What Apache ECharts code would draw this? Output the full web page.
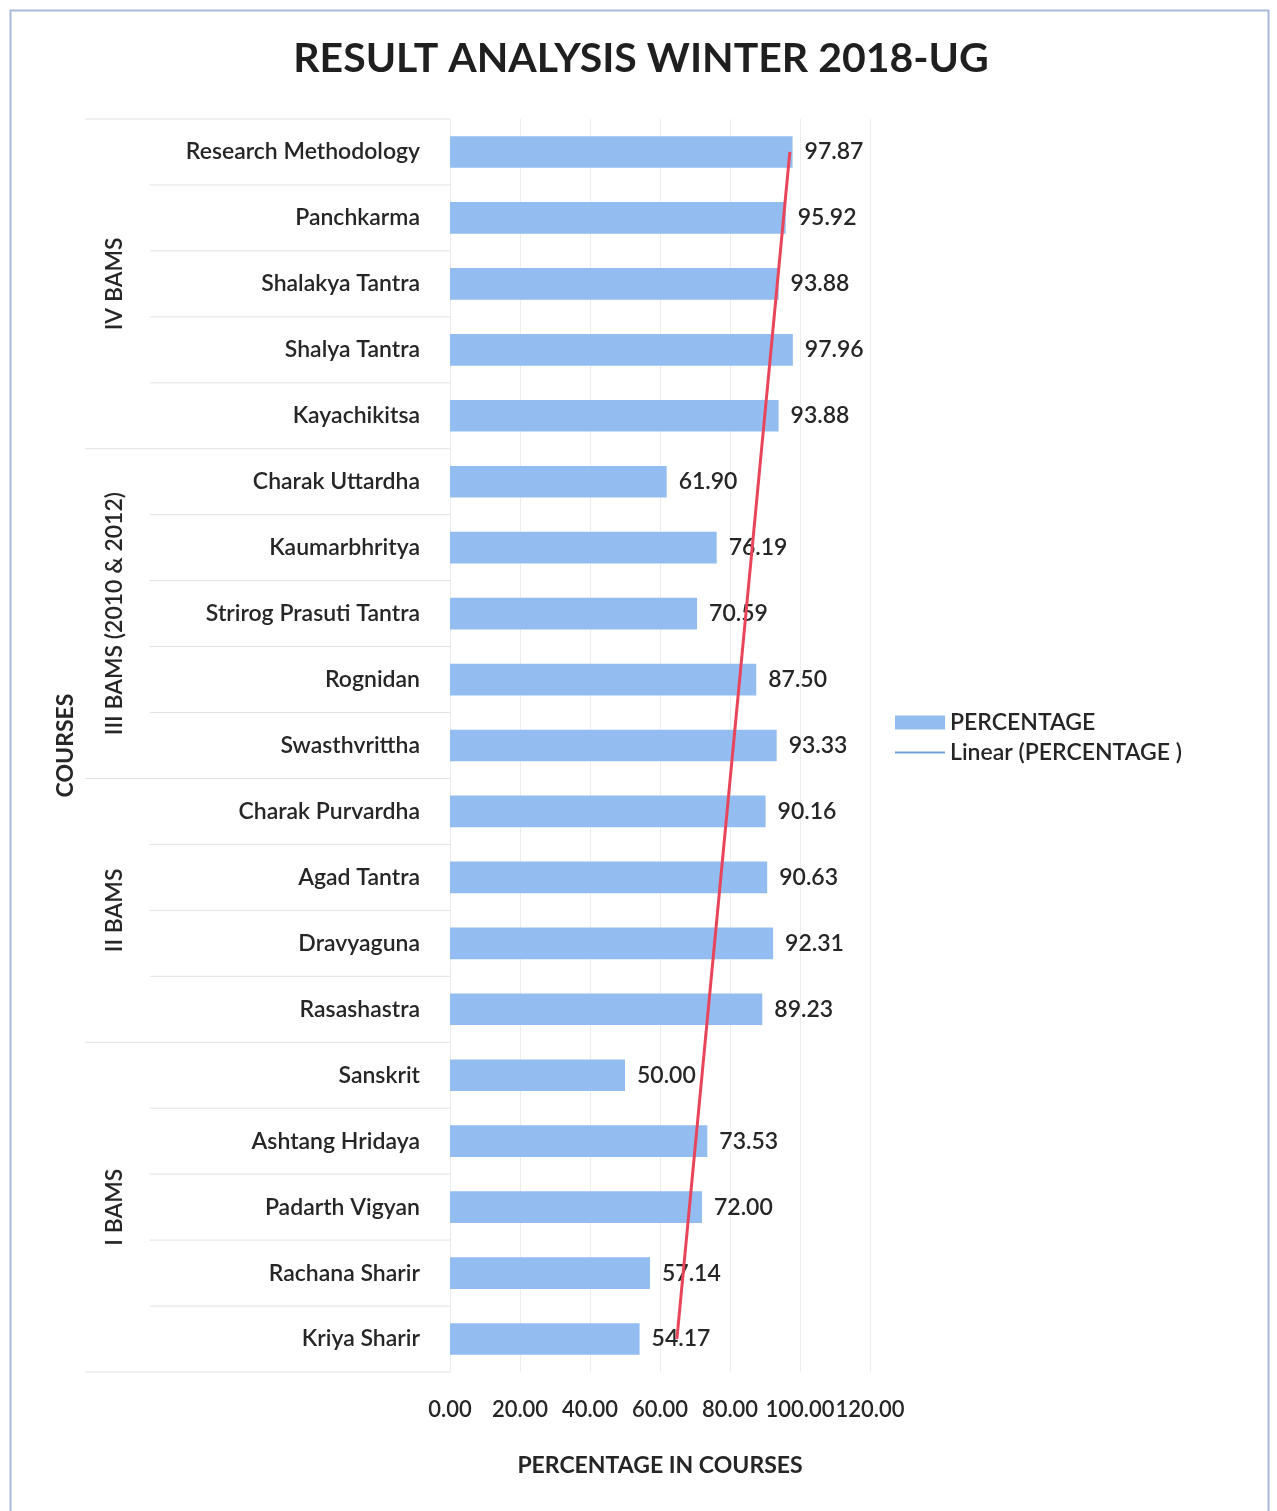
<!DOCTYPE html>
<html><head><meta charset="utf-8">
<script src="https://cdn.jsdelivr.net/npm/echarts@6/dist/echarts.min.js"></script>
<style>html,body{margin:0;padding:0;background:#fff}#c{width:1277px;height:1511px}</style>
</head><body><div id="c"></div>
<script>
const courses = ['Research Methodology','Panchkarma','Shalakya Tantra','Shalya Tantra','Kayachikitsa','Charak Uttardha','Kaumarbhritya','Strirog Prasuti Tantra','Rognidan','Swasthvrittha','Charak Purvardha','Agad Tantra','Dravyaguna','Rasashastra','Sanskrit','Ashtang Hridaya','Padarth Vigyan','Rachana Sharir','Kriya Sharir'];
const percentage = [97.87,95.92,93.88,97.96,93.88,61.90,76.19,70.59,87.50,93.33,90.16,90.63,92.31,89.23,50.00,73.53,72.00,57.14,54.17];
const groups = ['IV BAMS','III BAMS (2010 & 2012)','II BAMS','I BAMS'];
const groupSizes = [5,5,4,5];
const trendTop = 97.10;    // linear trend value at top category (read)
const trendBottom = 64.82; // linear trend value at bottom category (read)

const FONT = 'Lato';
const TXT = '#262626';
const FW = 600;

// group boundaries in category index space
const groupBounds = [];
let acc = 0;
groupSizes.forEach(s => { groupBounds.push([acc, acc + s]); acc += s; });
const sepData = [];
for (let b = 0; b <= courses.length; b++) {
  const isGroup = groupBounds.some(g => g[0] === b) || b === courses.length;
  sepData.push([b - 0.5, isGroup ? 1 : 0]);
}
const groupLabelData = groupBounds.map((g, i) => [(g[0] + g[1] - 1) / 2, i]);

const chart = echarts.init(document.getElementById('c'), null, {renderer: 'canvas'});
const G = {top: 119, height: 1253};
chart.setOption({
  backgroundColor: '#fff',
  animation: false,
  title: {
    text: 'RESULT ANALYSIS WINTER 2018-UG',
    left: 636, top: 33, textAlign: 'center',
    textStyle: {fontFamily: FONT, fontWeight: 'bold', fontSize: 41, color: '#1f1f1f'}
  },
  legend: [{
    data: ['PERCENTAGE'], orient: 'vertical', left: 890, top: 706,
    itemWidth: 50, itemHeight: 14, itemGap: 8, icon: 'rect',
    textStyle: {fontFamily: FONT, fontSize: 23, fontWeight: FW, color: TXT}
  }, {
    data: ['Linear (PERCENTAGE )'], orient: 'vertical', left: 890, top: 736,
    itemWidth: 50, itemHeight: 2, icon: 'rect',
    itemStyle: {color: '#6fa0d8'},
    textStyle: {fontFamily: FONT, fontSize: 23, fontWeight: FW, color: TXT}
  }],
  grid: [
    {left: 450, width: 420, top: G.top, height: G.height},
    {left: 85, width: 365, top: G.top, height: G.height}
  ],
  xAxis: [{
    gridIndex: 0, type: 'value', min: 0, max: 120, interval: 20,
    axisLine: {show: false}, axisTick: {show: false},
    axisLabel: {formatter: v => v.toFixed(2), fontFamily: FONT, fontSize: 22, fontWeight: FW, color: TXT, margin: 27,
      showMinLabel: true, showMaxLabel: true, hideOverlap: false},
    splitLine: {lineStyle: {color: '#ececec', width: 1}},
    name: 'PERCENTAGE IN COURSES', nameLocation: 'middle', nameGap: 82,
    nameTextStyle: {fontFamily: FONT, fontWeight: 'bold', fontSize: 23, color: TXT}
  }, {
    gridIndex: 1, type: 'value', min: 0, max: 1, show: false
  }],
  yAxis: [{
    gridIndex: 0, type: 'category', data: courses, inverse: true,
    axisLine: {show: false}, axisTick: {show: false},
    axisLabel: {fontFamily: FONT, fontSize: 23, fontWeight: FW, color: TXT, margin: 30}
  }, {
    gridIndex: 1, type: 'value', min: -0.5, max: courses.length - 0.5, inverse: true,
    axisLine: {show: false}, axisTick: {show: false}, axisLabel: {show: false}, splitLine: {show: false},
    name: 'COURSES', nameLocation: 'middle', nameGap: 8, nameRotate: 90,
    nameTextStyle: {fontFamily: FONT, fontWeight: 'bold', fontSize: 23, color: TXT}
  }],
  series: [{
    name: 'PERCENTAGE', type: 'bar', xAxisIndex: 0, yAxisIndex: 0,
    data: percentage, barCategoryGap: '52%',
    itemStyle: {color: '#93bdf0'},
    label: {show: true, position: 'right', distance: 12, formatter: p => p.value.toFixed(2),
      fontFamily: FONT, fontSize: 23, fontWeight: FW, color: TXT}
  }, {
    name: 'Linear (PERCENTAGE )', type: 'line', xAxisIndex: 0, yAxisIndex: 0,
    data: [[trendTop, courses[0]], [trendBottom, courses[courses.length - 1]]],
    symbol: 'none', lineStyle: {color: '#e8455a', width: 3}, z: 5
  }, {
    type: 'custom', xAxisIndex: 1, yAxisIndex: 1, data: sepData, silent: true,
    renderItem: (params, api) => {
      const y = api.value(0), isG = api.value(1);
      const p1 = api.coord([isG ? 0 : 0.178, y]);
      const p2 = api.coord([1, y]);
      return {type: 'line', shape: {x1: p1[0], y1: p1[1], x2: p2[0], y2: p2[1]},
        style: {stroke: '#e2e2e2', lineWidth: 1}};
    }
  }, {
    type: 'custom', xAxisIndex: 1, yAxisIndex: 1, data: groupLabelData, silent: true,
    renderItem: (params, api) => {
      const p = api.coord([0.08, api.value(0)]);
      return {type: 'text', x: p[0], y: p[1], rotation: Math.PI / 2,
        style: {text: groups[api.value(1)], fontFamily: FONT, fontSize: 23, fontWeight: FW, fill: TXT,
          align: 'center', verticalAlign: 'middle'}};
    }
  }],
  graphic: [{
    type: 'rect', left: 8, top: 8, shape: {width: 1258, height: 1510},
    style: {fill: 'none', stroke: '#a9b9dc', lineWidth: 2}, silent: true
  }]
});
</script></body></html>
